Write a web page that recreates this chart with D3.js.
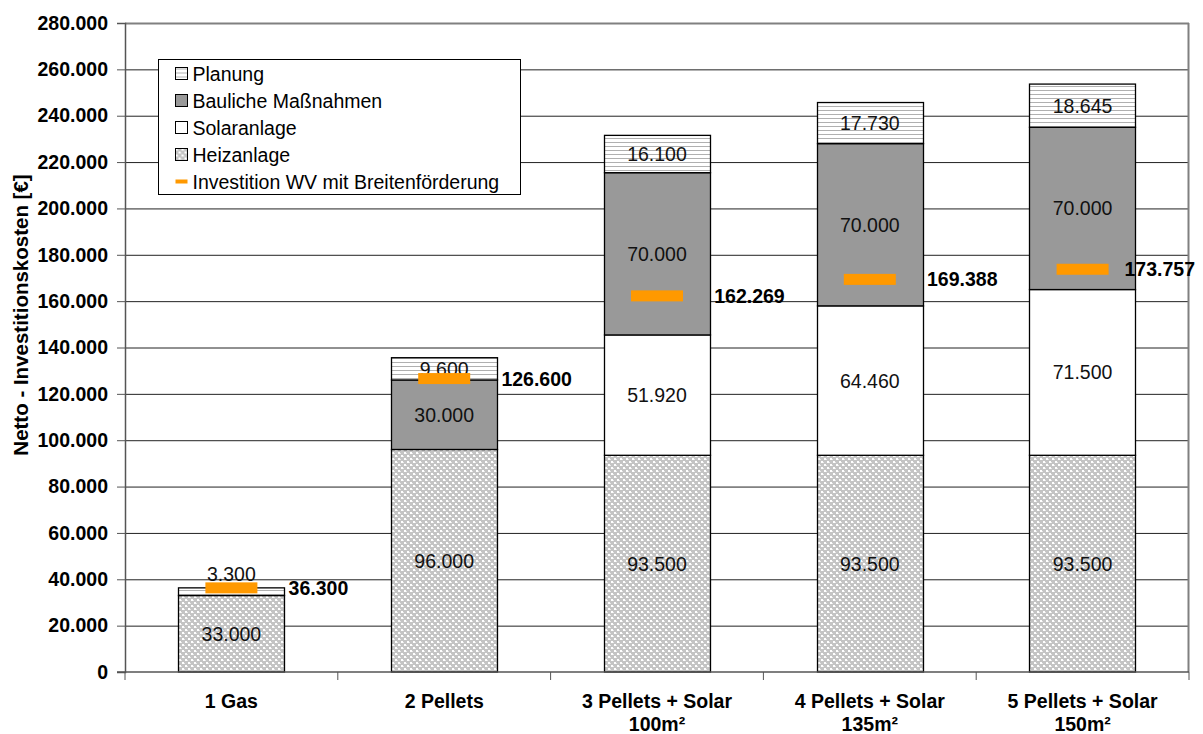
<!DOCTYPE html>
<html>
<head>
	<meta charset="utf-8">
	<script src="https://d3js.org/d3.v7.min.js"></script>
	<style>
		body {
			margin: 0;
			background: #fff;
		}
		svg text {
			font-family: "Liberation Sans", Arial, sans-serif;
			fill: #000;
		}
		.y-axis text {
			font-weight: bold;
			font-size: 19.5px;
		}
		.x-axis text {
			font-weight: bold;
			font-size: 19.5px;
		}
		.seg-label {
			font-size: 19.5px;
			fill: #111;
		}
		.total-label {
			font-size: 19.5px;
			font-weight: bold;
		}
		.legend text {
			font-size: 19.5px;
		}
	</style>
</head>
<body>

<svg width="1203" height="734" id="chart"></svg>

<script>

	var categories = [["1 Gas"], ["2 Pellets"], ["3 Pellets + Solar", "100m²"], ["4 Pellets + Solar", "135m²"], ["5 Pellets + Solar", "150m²"]];

	var heizanlage = [33000, 96000, 93500, 93500, 93500];
	var solaranlage = [0, 0, 51920, 64460, 71500];
	var bauliche = [0, 30000, 70000, 70000, 70000];
	var planung = [3300, 9600, 16100, 17730, 18645];

	var investitionWV = [36300, 126600, 162269, 169388, 173757];

	var yTicks = [0, 20000, 40000, 60000, 80000, 100000, 120000, 140000, 160000, 180000, 200000, 220000, 240000, 260000, 280000];

	var keys = ["heiz", "solar", "bau", "plan"];
	var keyNames = {plan: "Planung", bau: "Bauliche Maßnahmen", solar: "Solaranlage", heiz: "Heizanlage"};

	var de = d3.formatLocale({decimal: ",", thousands: ".", grouping: [3], currency: ["", " €"]});
	var fmt = de.format(",.0f");

	var rows = categories.map((c, i) => ({
		cat: c.join(" "),
		lines: c,
		heiz: heizanlage[i],
		solar: solaranlage[i],
		bau: bauliche[i],
		plan: planung[i],
		wv: investitionWV[i]
	}));

	var svg = d3.select("#chart"),
		margin = {top: 23, right: 14, bottom: 62, left: 125},
		width = +svg.attr("width") - margin.left - margin.right,
		height = +svg.attr("height") - margin.top - margin.bottom;

	var defs = svg.append("defs");

	// Heizanlage: fine grey grid with white crosses
	var pHeiz = defs.append("pattern")
		.attr("id", "p-heiz")
		.attr("patternUnits", "userSpaceOnUse")
		.attr("width", 6).attr("height", 6);
	pHeiz.append("rect").attr("width", 6).attr("height", 6).attr("fill", "#c4c4c4");
	pHeiz.append("rect").attr("x", 0).attr("y", 0).attr("width", 2).attr("height", 2).attr("fill", "#fff");
	pHeiz.append("rect").attr("x", 3).attr("y", 3).attr("width", 2).attr("height", 2).attr("fill", "#fff");
	pHeiz.append("rect").attr("x", 2).attr("y", 1).attr("width", 1).attr("height", 1).attr("fill", "#e8e8e8");
	pHeiz.append("rect").attr("x", 5).attr("y", 4).attr("width", 1).attr("height", 1).attr("fill", "#e8e8e8");

	// Planung: horizontal stripes
	var pPlan = defs.append("pattern")
		.attr("id", "p-plan")
		.attr("patternUnits", "userSpaceOnUse")
		.attr("width", 8).attr("height", 4);
	pPlan.append("rect").attr("width", 8).attr("height", 4).attr("fill", "#fff");
	pPlan.append("rect").attr("y", 3).attr("width", 8).attr("height", 1).attr("fill", "#b0b0b0");

	var fills = {heiz: "url(#p-heiz)", solar: "#fff", bau: "#999999", plan: "url(#p-plan)"};

	var g = svg.append("g")
		.attr("transform", "translate(" + margin.left + "," + margin.top + ")");

	var x = d3.scaleBand()
		.domain(rows.map(d => d.cat))
		.range([0, width])
		.paddingInner(0.5)
		.paddingOuter(0.25);

	var xOuter = d3.scaleBand()
		.domain(rows.map(d => d.cat))
		.range([0, width]);

	var y = d3.scaleLinear()
		.domain([0, 280000])
		.range([height, 0]);

	// gridlines
	g.append("g")
		.selectAll("line")
		.data(yTicks.filter(t => t > 0))
		.enter().append("line")
		.attr("x1", 0).attr("x2", width)
		.attr("y1", d => y(d) + 0.5).attr("y2", d => y(d) + 0.5)
		.attr("stroke", d => d == 280000 ? "#808080" : "#222")
		.attr("stroke-width", d => d == 280000 ? 2 : 1);

	// right border of plot area
	g.append("line")
		.attr("x1", width - 0.5).attr("x2", width - 0.5)
		.attr("y1", 0).attr("y2", height)
		.attr("stroke", "#808080")
		.attr("stroke-width", 2);

	var series = d3.stack().keys(keys)(rows);

	var layers = g.selectAll("g.layer")
		.data(series)
		.enter().append("g")
		.attr("class", "layer")
		.attr("fill", d => fills[d.key]);

	layers.selectAll("rect")
		.data(d => d.filter(s => s[1] - s[0] > 0))
		.enter().append("rect")
		.attr("x", d => Math.round(x(d.data.cat)) + 0.5)
		.attr("y", d => y(d[1]))
		.attr("width", Math.round(x.bandwidth()))
		.attr("height", d => y(d[0]) - y(d[1]))
		.attr("stroke", "#000")
		.attr("stroke-width", 1.3);

	// segment value labels
	layers.selectAll("text")
		.data(d => d.filter(s => s[1] - s[0] > 0))
		.enter().append("text")
		.attr("class", "seg-label")
		.attr("x", d => x(d.data.cat) + x.bandwidth() / 2)
		.attr("y", d => {
			var h = y(d[0]) - y(d[1]);
			return h < 15 ? y(d[1]) - 14 : (y(d[0]) + y(d[1])) / 2;
		})
		.attr("dy", "0.36em")
		.attr("text-anchor", "middle")
		.text(d => fmt(d[1] - d[0]));

	// orange markers: Investition WV mit Breitenförderung
	g.append("g")
		.selectAll("rect")
		.data(rows)
		.enter().append("rect")
		.attr("x", d => x(d.cat) + x.bandwidth() / 2 - 26)
		.attr("y", d => y(d.wv) - 5.5)
		.attr("width", 52)
		.attr("height", 11)
		.attr("fill", "#ff9900");

	g.append("g")
		.selectAll("text")
		.data(rows)
		.enter().append("text")
		.attr("class", "total-label")
		.attr("y", d => y(d.wv))
		.attr("dy", "0.36em")
		.text(d => fmt(d.wv))
		.attr("x", function(d) {
			// keep the label inside the picture, like the original does
			var w = this.getComputedTextLength();
			return Math.min(x(d.cat) + x.bandwidth() + 4, width + 6 - w);
		});

	// y axis
	var yAxis = g.append("g")
		.attr("class", "y-axis")
		.call(d3.axisLeft(y).tickValues(yTicks).tickSize(8).tickPadding(9).tickFormat(fmt));
	yAxis.select(".domain").attr("stroke", "#555").attr("stroke-width", 1.5);
	yAxis.selectAll(".tick line").attr("stroke", "#555");

	// x axis
	var xAxis = g.append("g")
		.attr("class", "x-axis")
		.attr("transform", "translate(0," + height + ")");
	xAxis.append("line")
		.attr("x1", -8).attr("x2", width)
		.attr("stroke", "#555").attr("stroke-width", 1.5);
	xAxis.selectAll("line.tick")
		.data(rows.map(d => d.cat).slice(1).concat(["_end"]))
		.enter().append("line")
		.attr("class", "tick")
		.attr("x1", d => d == "_end" ? width : xOuter(d))
		.attr("x2", d => d == "_end" ? width : xOuter(d))
		.attr("y1", 0).attr("y2", 8)
		.attr("stroke", "#555");
	xAxis.append("line")
		.attr("x1", 0).attr("x2", 0).attr("y1", 0).attr("y2", 8)
		.attr("stroke", "#555");

	var catLabels = xAxis.selectAll("text.cat")
		.data(rows)
		.enter().append("text")
		.attr("class", "cat")
		.attr("text-anchor", "middle")
		.attr("x", d => xOuter(d.cat) + xOuter.bandwidth() / 2)
		.attr("y", 36);
	catLabels.selectAll("tspan")
		.data(d => d.lines)
		.enter().append("tspan")
		.attr("x", function() { return d3.select(this.parentNode).attr("x"); })
		.attr("dy", (d, i) => i == 0 ? 0 : 23)
		.text(d => d);

	// y title
	svg.append("text")
		.attr("transform", "translate(21,315) rotate(-90)")
		.attr("text-anchor", "middle")
		.attr("dy", "0.36em")
		.style("font-size", "20.5px")
		.style("font-weight", "bold")
		.text("Netto - Investitionskosten [€]");

	// legend
	var legendKeys = ["plan", "bau", "solar", "heiz", "wv"];
	var legend = svg.append("g")
		.attr("class", "legend")
		.attr("transform", "translate(158.5,59.5)");

	legend.append("rect")
		.attr("width", 362)
		.attr("height", 135)
		.attr("fill", "#fff")
		.attr("stroke", "#000")
		.attr("stroke-width", 1);

	var items = legend.selectAll("g.item")
		.data(legendKeys)
		.enter().append("g")
		.attr("class", "item")
		.attr("transform", (d, i) => "translate(17," + (14 + i * 27) + ")");

	items.filter(d => d != "wv").append("rect")
		.attr("x", 0).attr("y", -6)
		.attr("width", 12).attr("height", 12)
		.attr("fill", d => fills[d])
		.attr("stroke", "#000")
		.attr("stroke-width", 1);

	items.filter(d => d == "wv").append("rect")
		.attr("x", 0).attr("y", -2)
		.attr("width", 12).attr("height", 4)
		.attr("fill", "#ff9900");

	items.append("text")
		.attr("x", 17)
		.attr("dy", "0.36em")
		.text(d => d == "wv" ? "Investition WV mit Breitenförderung" : keyNames[d]);

</script>
</body>
</html>
